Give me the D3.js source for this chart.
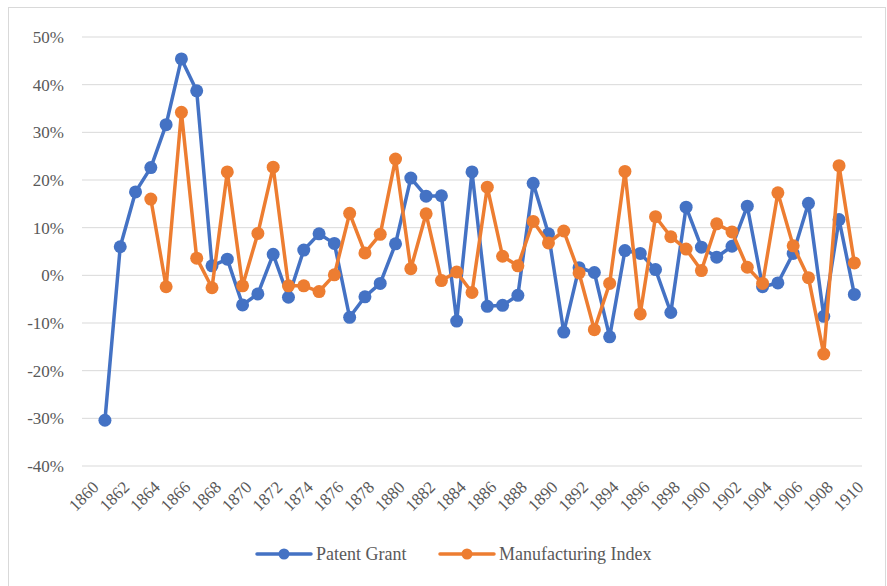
<!DOCTYPE html>
<html>
<head>
<meta charset="utf-8">
<script src="https://cdn.jsdelivr.net/npm/d3@7"></script>
<style>
  body { margin: 0; background: #fff; }
</style>
</head>
<body>
<svg width="887" height="586" font-family="'Liberation Serif', 'DejaVu Serif', serif"></svg>
<script>
const years = d3.range(1860, 1911);

// percent growth, null = no value
const patentGrant = [null, -30.4, 6.0, 17.5, 22.6, 31.6, 45.4, 38.7, 2.0, 3.4,
  -6.2, -3.9, 4.4, -4.6, 5.3, 8.7, 6.7, -8.8, -4.5, -1.7,
  6.6, 20.4, 16.6, 16.7, -9.6, 21.7, -6.5, -6.3, -4.2, 19.3,
  8.7, -11.9, 1.6, 0.6, -12.9, 5.2, 4.6, 1.2, -7.8, 14.3,
  5.9, 3.8, 6.1, 14.5, -2.4, -1.6, 4.6, 15.1, -8.6, 11.7, -4.0];

const manufacturing = [null, null, null, null, 16.0, -2.4, 34.2, 3.6, -2.6, 21.7,
  -2.2, 8.8, 22.7, -2.2, -2.2, -3.4, 0.1, 13.0, 4.7, 8.6,
  24.4, 1.4, 12.9, -1.1, 0.7, -3.6, 18.5, 4.0, 2.0, 11.3,
  6.8, 9.3, 0.5, -11.4, -1.7, 21.8, -8.1, 12.3, 8.1, 5.5,
  1.0, 10.8, 9.1, 1.7, -1.7, 17.3, 6.2, -0.5, -16.5, 23.0, 2.6];

const series = [
  {name: "Patent Grant", values: patentGrant, color: "#4472c4"},
  {name: "Manufacturing Index", values: manufacturing, color: "#ed7d31"}
];

const yTicks = [-40, -30, -20, -10, 0, 10, 20, 30, 40, 50];
const xLabels = years.filter(y => y % 2 === 0);

const svg = d3.select("svg");
const textColor = "#595959";

// chart border
svg.append("rect")
  .attr("x", 8.5).attr("y", 7.5)
  .attr("width", 877).attr("height", 590)
  .attr("fill", "none").attr("stroke", "#d9d9d9");

const plot = {left: 82, right: 862, top: 37, bottom: 466};

const x = d3.scaleBand()
  .domain(years)
  .range([plot.left, plot.right]);

const y = d3.scaleLinear()
  .domain([-40, 50])
  .range([plot.bottom, plot.top]);

// gridlines
svg.append("g")
  .selectAll("line")
  .data(yTicks)
  .join("line")
    .attr("x1", plot.left).attr("x2", plot.right)
    .attr("y1", d => y(d)).attr("y2", d => y(d))
    .attr("stroke", "#d9d9d9").attr("stroke-width", 1);

// y labels
svg.append("g")
  .selectAll("text")
  .data(yTicks)
  .join("text")
    .attr("x", 64)
    .attr("y", d => y(d))
    .attr("dy", "0.35em")
    .attr("text-anchor", "end")
    .attr("fill", textColor)
    .attr("font-size", 17)
    .text(d => d + "%");

// x labels
svg.append("g")
  .selectAll("text")
  .data(xLabels)
  .join("text")
    .attr("transform", d => `translate(${x(d) + x.bandwidth() / 2 + 6},${plot.bottom + 18}) rotate(-45)`)
    .attr("text-anchor", "end")
    .attr("dy", "0.35em")
    .attr("fill", textColor)
    .attr("font-size", 17)
    .text(d => d);

const line = d3.line()
  .defined(d => d.v !== null)
  .x(d => x(d.year) + x.bandwidth() / 2)
  .y(d => y(d.v));

series.forEach(s => {
  const pts = years.map((yr, i) => ({year: yr, v: s.values[i]}));
  svg.append("path")
    .datum(pts)
    .attr("fill", "none")
    .attr("stroke", s.color)
    .attr("stroke-width", 3.5)
    .attr("stroke-linejoin", "round")
    .attr("d", line);
  svg.append("g")
    .selectAll("circle")
    .data(pts.filter(d => d.v !== null))
    .join("circle")
      .attr("cx", d => x(d.year) + x.bandwidth() / 2)
      .attr("cy", d => y(d.v))
      .attr("r", 6.5)
      .attr("fill", s.color);
});

// legend
const legendItems = [
  {name: series[0].name, color: series[0].color, x: 257},
  {name: series[1].name, color: series[1].color, x: 440}
];
const lg = svg.append("g");
legendItems.forEach(d => {
  lg.append("line")
    .attr("x1", d.x).attr("x2", d.x + 54)
    .attr("y1", 554).attr("y2", 554)
    .attr("stroke", d.color).attr("stroke-width", 3.5)
    .attr("stroke-linecap", "round");
  lg.append("circle")
    .attr("cx", d.x + 27).attr("cy", 554).attr("r", 5.5)
    .attr("fill", d.color);
  lg.append("text")
    .attr("x", d.x + 59).attr("y", 554)
    .attr("dy", "0.35em")
    .attr("fill", textColor)
    .attr("font-size", 18)
    .text(d.name);
});
</script>
</body>
</html>
